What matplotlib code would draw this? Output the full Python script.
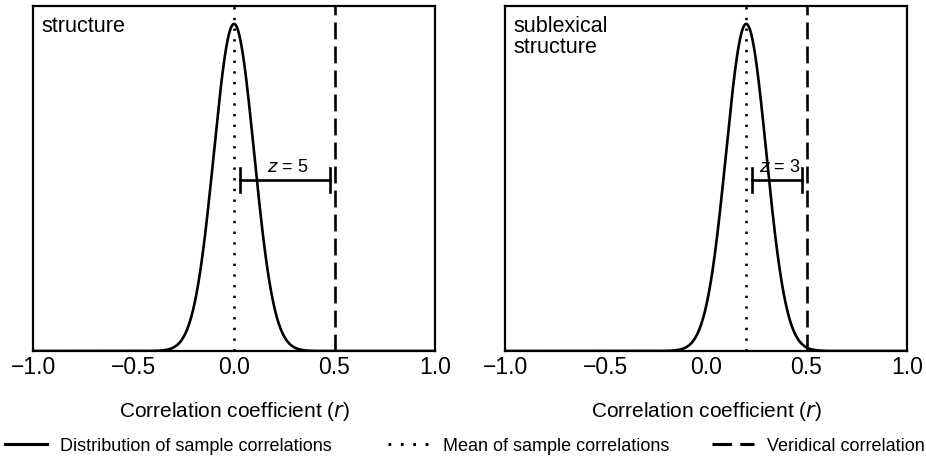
import matplotlib.pyplot as plt
import numpy as np

plt.rcParams['font.family'] = ['Liberation Sans', 'DejaVu Sans']

panel_labels = ['structure', 'sublexical\nstructure']
means = [0.0, 0.2]
sds = [0.1, 0.1]
veridical = [0.5, 0.5]
z_values = [5, 3]
bar_start = [0.03, 0.23]
bar_end = [0.48, 0.48]
xticks = [-1.0, -0.5, 0.0, 0.5, 1.0]
xtick_labels = ['\u22121.0', '\u22120.5', '0.0', '0.5', '1.0']

dotted = (0, (0.9, 3.15))
dashed = (0, (6.4, 2.7))

fig = plt.figure(figsize=(9.26, 4.64), dpi=100)
axes = [fig.add_axes([33 / 926, 112 / 464, 402 / 926, 345 / 464]),
        fig.add_axes([505 / 926, 112 / 464, 402 / 926, 345 / 464])]

x = np.linspace(-1, 1, 800)
for i, ax in enumerate(axes):
    m, s = means[i], sds[i]
    dens = np.exp(-0.5 * ((x - m) / s) ** 2) / (s * np.sqrt(2 * np.pi))
    peak = dens.max()
    ax.plot(x, dens, color='black', lw=1.9)
    ax.axvline(m, color='black', lw=1.9, linestyle=dotted)
    ax.axvline(veridical[i], color='black', lw=1.9, linestyle=dashed)
    ymax = peak / 0.948
    ax.set_xlim(-1, 1)
    ax.set_ylim(0, ymax)
    yb = ymax * 0.496
    ax.plot([bar_start[i], bar_end[i]], [yb, yb], color='black', lw=1.9)
    for xe in (bar_start[i], bar_end[i]):
        ax.plot([xe, xe], [yb - ymax * 0.035, yb + ymax * 0.035], color='black', lw=1.9)
    ax.text((bar_start[i] + bar_end[i]) / 2 + 0.01, yb + ymax * 0.015,
            '$z$ = %d' % z_values[i], ha='center', va='bottom', fontsize=13)
    ax.text(0.022, 0.975, panel_labels[i], transform=ax.transAxes,
            ha='left', va='top', fontsize=15.5, linespacing=1.0)
    ax.set_xticks(xticks)
    ax.set_xticklabels(xtick_labels, fontsize=16.5)
    ax.set_yticks([])
    ax.tick_params(axis='x', length=0, pad=3)
    for sp in ax.spines.values():
        sp.set_linewidth(1.6)
    ax.set_xlabel('Correlation coefficient ($r$)', fontsize=15, labelpad=15)

# legend entries placed separately to match the reference spacing
leg_handles = [plt.Line2D([], [], color='black', lw=2.2),
               plt.Line2D([], [], color='black', lw=2.2, linestyle=dotted),
               plt.Line2D([], [], color='black', lw=2.2, linestyle=dashed)]
leg_labels = ['Distribution of sample correlations', 'Mean of sample correlations',
              'Veridical correlation']
leg_x = [5, 388, 712]
for h, lab, lx in zip(leg_handles, leg_labels, leg_x):
    fig.legend([h], [lab], loc='center left', bbox_to_anchor=(lx / 926, 1 - 447 / 464),
               frameon=False, fontsize=13, handlelength=2.3, handletextpad=0.75,
               borderpad=0, borderaxespad=0)

plt.savefig('out.png', dpi=100)
plt.close()
